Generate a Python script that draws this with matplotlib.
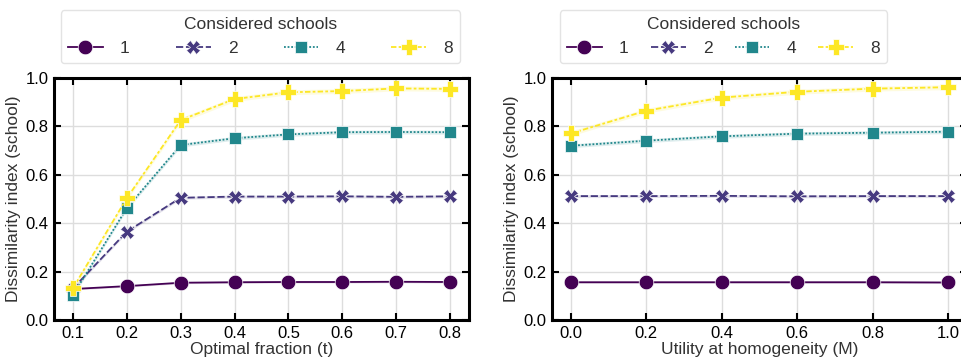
import numpy as np
import matplotlib.pyplot as plt

plt.rcParams["font.family"] = ["Liberation Sans", "DejaVu Sans"]

# данные
t_vals = [0.1, 0.2, 0.3, 0.4, 0.5, 0.6, 0.7, 0.8]
m_vals = [0.0, 0.2, 0.4, 0.6, 0.8, 1.0]
schools = ["1", "2", "4", "8"]

left_1 = [0.128, 0.140, 0.154, 0.156, 0.157, 0.157, 0.158, 0.157]
left_2 = [0.130, 0.365, 0.505, 0.510, 0.510, 0.511, 0.509, 0.511]
left_4 = [0.103, 0.462, 0.723, 0.751, 0.767, 0.776, 0.777, 0.776]
left_8 = [0.131, 0.503, 0.826, 0.913, 0.941, 0.946, 0.957, 0.955]

right_1 = [0.156, 0.156, 0.156, 0.156, 0.156, 0.155]
right_2 = [0.512, 0.512, 0.513, 0.511, 0.512, 0.512]
right_4 = [0.720, 0.741, 0.759, 0.770, 0.774, 0.778]
right_8 = [0.771, 0.865, 0.919, 0.943, 0.956, 0.962]

band = [0.004, 0.006, 0.008, 0.010]

colors = ["#440154", "#46397f", "#21878c", "#fde725"]
markers = ["o", "X", "s", "P"]
msizes = [10.5, 10, 8, 11]
styles = ["-", (0, (4, 1.5)), (0, (1, 1)), (0, (3, 1.25, 1.5, 1.25))]

fig = plt.figure(figsize=(9.61, 3.57), dpi=100)
ax1 = fig.add_axes([54 / 961, 37 / 357, 415 / 961, 242 / 357])
ax2 = fig.add_axes([552 / 961, 37 / 357, 415 / 961, 242 / 357])


def draw(ax, x, series, xlabel, xticks, fmt):
    for i, y in enumerate(series):
        y = np.array(y)
        ax.fill_between(x, y - band[i], y + band[i], color=colors[i], alpha=0.15, lw=0)
        ax.plot(x, y, color=colors[i], marker=markers[i], ms=msizes[i],
                ls=styles[i], lw=1.3, label=schools[i], mec="white", mew=0.5)
    ax.set_ylim(0, 1)
    ax.set_yticks([0, 0.2, 0.4, 0.6, 0.8, 1.0])
    ax.set_yticklabels(["0.0", "0.2", "0.4", "0.6", "0.8", "1.0"])
    ax.set_xticks(xticks)
    ax.set_xticklabels([fmt % v for v in xticks])
    ax.margins(x=0.05)
    ax.grid(True, color="#dddddd", lw=1)
    ax.set_axisbelow(True)
    ax.tick_params(direction="in", top=True, right=True, length=5, width=1.5,
                   labelsize=12, pad=4)
    for s in ax.spines.values():
        s.set_linewidth(2.2)
        s.set_color("black")
    ax.set_xlabel(xlabel, fontsize=12.5, color="#333333", labelpad=1)
    ax.set_ylabel("Dissimilarity index (school)", fontsize=12.5, color="#333333", labelpad=3)


draw(ax1, t_vals, [left_1, left_2, left_4, left_8], "Optimal fraction (t)", t_vals, "%.1f")
draw(ax2, m_vals, [right_1, right_2, right_4, right_8], "Utility at homogeneity (M)", m_vals, "%.1f")

h, l = ax1.get_legend_handles_labels()
leg1 = fig.legend(h, l, title="Considered schools", ncol=4, mode="expand",
                  bbox_to_anchor=(61 / 961, 1 - 63 / 357, 399 / 961, 51 / 357),
                  loc="lower left", fontsize=12.5, title_fontsize=12.5, frameon=True,
                  borderaxespad=0, handlelength=2, handletextpad=1.0)
leg2 = fig.legend(h, l, title="Considered schools", ncol=4, mode="expand",
                  bbox_to_anchor=(560 / 961, 1 - 63 / 357, 327 / 961, 51 / 357),
                  loc="lower left", fontsize=12.5, title_fontsize=12.5, frameon=True,
                  borderaxespad=0, handlelength=2, handletextpad=1.0)
for lg in (leg1, leg2):
    lg.get_frame().set_edgecolor("#dddddd")
    lg.get_title().set_color("#333333")
    for tx in lg.get_texts():
        tx.set_color("#333333")

plt.savefig("out.png", dpi=100)
